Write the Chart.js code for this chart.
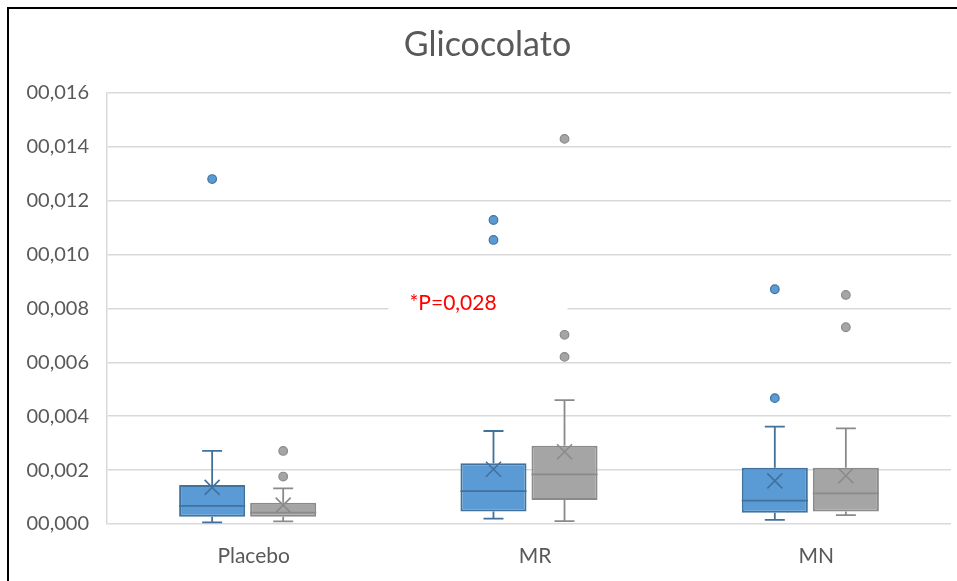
<!DOCTYPE html>
<html>
<head>
<meta charset="utf-8">
<script src="https://cdn.jsdelivr.net/npm/chart.js@4.4.1/dist/chart.umd.min.js"></script>
<style>
  html, body { margin: 0; padding: 0; background: #ffffff; }
  #wrap { position: relative; width: 957px; height: 581px; }
</style>
</head>
<body>
<div id="wrap"><canvas id="c" width="957" height="581"></canvas></div>
<script>
// ---- Data ----
const categories = ['Placebo', 'MR', 'MN'];
const chartTitle = 'Glicocolato';
const yTickLabels = ['00,000', '00,002', '00,004', '00,006', '00,008', '00,010', '00,012', '00,014', '00,016'];
const yTickValues = [0, 0.002, 0.004, 0.006, 0.008, 0.010, 0.012, 0.014, 0.016];

const blueMin    = [0.00006, 0.00020, 0.00015];
const blueQ1     = [0.00027, 0.00046, 0.00042];
const blueMedian = [0.00067, 0.00122, 0.00087];
const blueQ3     = [0.00145, 0.00225, 0.00209];
const blueMax    = [0.00271, 0.00345, 0.00361];
const blueMean   = [0.00136, 0.00203, 0.00160];
const blueOutliers = [[0.0128], [0.01128, 0.01054], [0.00871, 0.00467]];

const greyMin    = [0.00010, 0.00011, 0.00033];
const greyQ1     = [0.00027, 0.00089, 0.00046];
const greyMedian = [0.00042, 0.00184, 0.00114];
const greyQ3     = [0.00079, 0.00290, 0.00209];
const greyMax    = [0.00132, 0.00460, 0.00355];
const greyMean   = [0.00070, 0.00268, 0.00179];
const greyOutliers = [[0.00271, 0.00176], [0.01429, 0.00702, 0.00620], [0.00850, 0.00730]];

const annotationText = '*P=0,028';
const annotationY = 0.0082;
const annotationCat = 0.73;

// ---- Styles ----
const FONT = 'Lato, "Open Sans", sans-serif';
const TEXT = '#595959';
const series = [
  { fill: '#5b9bd5', stroke: '#41719c', min: blueMin, q1: blueQ1, med: blueMedian, q3: blueQ3, max: blueMax, mean: blueMean, out: blueOutliers },
  { fill: '#a5a5a5', stroke: '#8a8a8a', min: greyMin, q1: greyQ1, med: greyMedian, q3: greyQ3, max: greyMax, mean: greyMean, out: greyOutliers }
];

const frame = {
  id: 'frame',
  beforeDraw(chart) {
    const ctx = chart.ctx;
    ctx.save();
    ctx.fillStyle = '#ffffff';
    ctx.fillRect(0, 0, chart.width, chart.height);
    ctx.strokeStyle = '#000000';
    ctx.lineWidth = 2;
    ctx.beginPath();
    ctx.moveTo(8, chart.height);
    ctx.lineTo(8, 8);
    ctx.lineTo(chart.width, 8);
    ctx.stroke();
    ctx.restore();
  }
};

const boxExtras = {
  id: 'boxExtras',
  afterDatasetsDraw(chart) {
    const ctx = chart.ctx;
    const ys = chart.scales.y;
    ctx.save();
    series.forEach((s, d) => {
      const meta = chart.getDatasetMeta(d);
      meta.data.forEach((el, i) => {
        const x = el.x;
        const half = el.width / 2;
        ctx.strokeStyle = s.stroke;
        ctx.lineWidth = 1.8;
        ctx.lineCap = 'butt';
        // whiskers
        const pMax = ys.getPixelForValue(s.max[i]);
        const pMin = ys.getPixelForValue(s.min[i]);
        const pQ3 = ys.getPixelForValue(s.q3[i]);
        const pQ1 = ys.getPixelForValue(s.q1[i]);
        ctx.beginPath();
        ctx.moveTo(x, pQ3); ctx.lineTo(x, pMax);
        ctx.moveTo(x - 10, pMax); ctx.lineTo(x + 10, pMax);
        ctx.moveTo(x, pQ1); ctx.lineTo(x, pMin);
        ctx.moveTo(x - 10, pMin); ctx.lineTo(x + 10, pMin);
        ctx.stroke();
        // median
        const pMed = ys.getPixelForValue(s.med[i]);
        ctx.beginPath();
        ctx.moveTo(x - half, pMed); ctx.lineTo(x + half, pMed);
        ctx.stroke();
        // mean X
        const pMean = ys.getPixelForValue(s.mean[i]);
        const m = 7.5;
        ctx.lineWidth = 1.6;
        ctx.beginPath();
        ctx.moveTo(x - m, pMean - m); ctx.lineTo(x + m, pMean + m);
        ctx.moveTo(x - m, pMean + m); ctx.lineTo(x + m, pMean - m);
        ctx.stroke();
        // outliers
        ctx.fillStyle = s.fill;
        ctx.lineWidth = 1.2;
        s.out[i].forEach(v => {
          const py = ys.getPixelForValue(v);
          ctx.beginPath();
          ctx.arc(x, py, 4.3, 0, Math.PI * 2);
          ctx.fill();
          ctx.stroke();
        });
      });
    });
    // annotation
    const xs = chart.scales.x;
    const ax = xs.getPixelForValue(annotationCat);
    const ay = ys.getPixelForValue(annotationY);
    ctx.font = '21px ' + FONT;
    ctx.textBaseline = 'middle';
    ctx.textAlign = 'center';
    const tw = ctx.measureText(annotationText).width;
    ctx.fillStyle = '#ffffff';
    ctx.fillRect(ax - tw / 2 - 21, ay - 14, 179, 28);
    ctx.fillStyle = '#ff0000';
    ctx.fillText(annotationText, ax, ay);
    ctx.restore();
  }
};

new Chart(document.getElementById('c'), {
  type: 'bar',
  data: {
    labels: categories,
    datasets: series.map((s, d) => ({
      label: d === 0 ? 'A' : 'B',
      data: s.q1.map((q, i) => [q, s.q3[i]]),
      backgroundColor: s.fill,
      borderColor: s.stroke,
      borderWidth: 2,
      borderSkipped: false,
      categoryPercentage: 0.505,
      barPercentage: 0.93
    }))
  },
  options: {
    responsive: false,
    animation: false,
    devicePixelRatio: 1,
    layout: { padding: { left: 24, right: 6, top: 10, bottom: 0 } },
    plugins: {
      legend: { display: false },
      tooltip: { enabled: false },
      title: {
        display: true,
        text: chartTitle,
        color: TEXT,
        font: { family: FONT, size: 34, weight: 'normal' },
        padding: { top: 15, bottom: 27 }
      }
    },
    scales: {
      x: {
        grid: { display: false, drawTicks: false },
        border: { display: false },
        ticks: { color: TEXT, font: { family: FONT, size: 21 }, padding: 20, labelOffset: 6 },
        afterFit(scale) { scale.height = 57; }
      },
      y: {
        min: 0, max: 0.016,
        afterBuildTicks(scale) { scale.ticks = yTickValues.map(v => ({ value: v })); },
        ticks: {
          color: TEXT,
          font: { family: FONT, size: 20 },
          padding: 18,
          callback(value, index) { return yTickLabels[index]; }
        },
        grid: { color: '#d9d9d9', lineWidth: 1.5, drawTicks: false },
        border: { display: true, color: '#d9d9d9', width: 1.5 },
        afterFit(scale) { scale.width = 83; }
      }
    }
  },
  plugins: [frame, boxExtras]
});
</script>
</body>
</html>
